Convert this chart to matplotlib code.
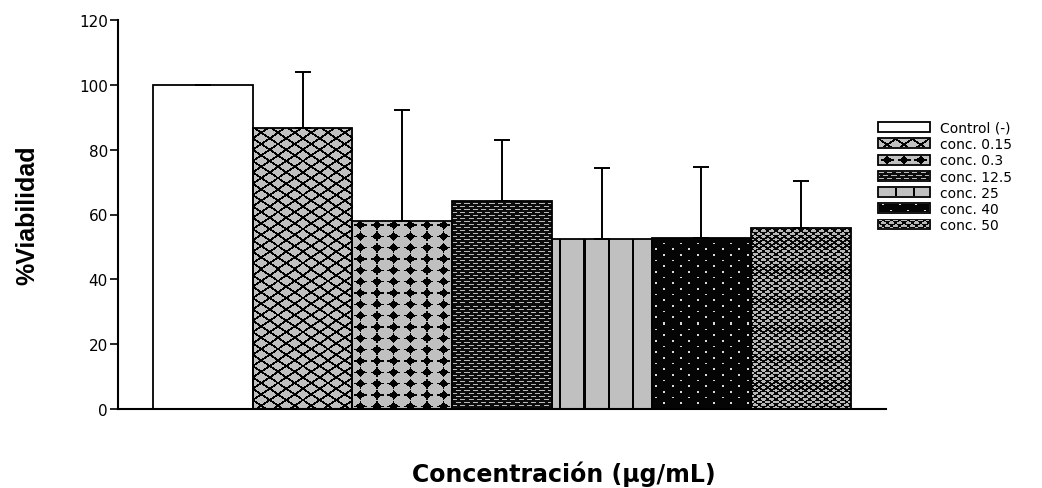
import numpy as np
import matplotlib
matplotlib.use("Agg")
import matplotlib.pyplot as plt

# Cell viability per treatment (mean and upper standard deviation)
labels = ["Control (-)", "conc. 0.15", "conc. 0.3", "conc. 12.5",
          "conc. 25", "conc. 40", "conc. 50"]
viability = [100.0, 86.7, 57.9, 64.3, 52.3, 52.9, 55.7]
sd_upper = [0.0, 17.4, 34.4, 18.7, 22.0, 21.6, 14.6]
y_ticks = [0, 20, 40, 60, 80, 100, 120]

# Fill style for each bar
fills = ["open", "cross", "diamond", "brick", "vlines", "dots", "checker"]

W_PX, H_PX, DPI = 1042, 489, 100
GRAY = 0.75


def frac_dist(t):
    return np.abs(t - np.round(t))


def fill_pattern(kind, w, h, vline_offset=7.0, vline_period=24.3):
    """Grey-level texture (h x w pixels) used to fill one bar."""
    X, Y = np.meshgrid(np.arange(w) + 0.5, np.arange(h) + 0.5)
    img = np.full((h, w), GRAY)
    if kind == "open":
        img[:] = 1.0
    elif kind == "cross":
        P, Q = 100 / 6, 34 / 3
        s = P * Q / np.hypot(P, Q)
        d1 = frac_dist(X / P + Y / Q) * s
        d2 = frac_dist(X / P - Y / Q) * s
        img[(d1 < 0.95) | (d2 < 0.95)] = 0.0
    elif kind == "diamond":
        P, Q = 100 / 6, 34 / 3
        Xs, Ys = X - P / 2, Y - 4.0
        dx = Xs - P * np.round(Xs / P)
        dy = Ys - Q * np.round(Ys / Q)
        adx, ady = np.abs(dx), np.abs(dy)
        mask = (adx / 5.2 + ady / 4.2 <= 1.0)
        mask |= (ady < 0.6) & (adx < 6.5)
        mask |= (adx < 0.6) & (ady < 5.0)
        img[mask] = 0.0
    elif kind == "brick":
        img[:] = 0.05
        row = np.floor(Y / 3.0)
        phase = X / (100 / 12) + 0.5 * (row % 2)
        dash = ((Y % 3.0) < 1.2) & ((phase % 1.0) < 0.6)
        img[dash] = 0.72
    elif kind == "vlines":
        img[((X - vline_offset) % vline_period) < 2.4] = 0.0
    elif kind == "dots":
        img[:] = 0.02
        rp = 17 / 3
        row = np.floor(Y / rp)
        on_row = (Y % rp) < 1.5
        ph = (X - 3.0 - (100 / 12) * (row % 2)) % (100 / 6)
        img[on_row & (ph < 2.0)] = 0.85
    elif kind == "checker":
        img[:] = 0.03
        P, Q = 100 / 12, 5.8
        row = np.round(Y / (Q / 2))
        Xs = X - (P / 2) * (row % 2)
        dx = Xs - P * np.round(Xs / P)
        dy = Y - (Q / 2) * row
        adx, ady = np.abs(dx), np.abs(dy)
        plus = ((adx <= 2.6) & (ady <= 0.8)) | ((adx <= 1.1) & (ady <= 1.6))
        img[plus] = 0.72
    return img


fig = plt.figure(figsize=(W_PX / DPI, H_PX / DPI), dpi=DPI)
ax = fig.add_axes([118 / W_PX, 1 - 410 / H_PX, 768 / W_PX, 389 / H_PX])
XLIM, YLIM = (-0.85, 6.85), (0, 120)
ax.set_xlim(*XLIM)
ax.set_ylim(*YLIM)

x = np.arange(len(labels))
bars = ax.bar(x, viability, width=1.0, facecolor="none",
              edgecolor="black", linewidth=1.3, zorder=3)

# Textured fills, computed at the bars' own pixel size
for bar, kind in zip(bars, fills):
    x0, x1 = bar.get_x(), bar.get_x() + bar.get_width()
    top = bar.get_height()
    (p0x, p0y), (p1x, p1y) = ax.transData.transform([(x0, 0), (x1, top)])
    w, h = int(round(p1x - p0x)), int(round(p1y - p0y))
    tex = fill_pattern(kind, w, h)
    im = ax.imshow(tex, cmap="gray", vmin=0, vmax=1,
                   extent=(x0, x1, 0, top), origin="upper",
                   interpolation="nearest", aspect="auto", zorder=2)
    im.set_clip_path(bar)

ax.errorbar(x, viability, yerr=[np.zeros(len(x)), sd_upper], fmt="none",
            ecolor="black", elinewidth=1.4, capsize=6.1, capthick=1.4,
            zorder=4)

ax.set_xlim(*XLIM)
ax.set_ylim(*YLIM)
ax.set_aspect("auto")

for s in ("top", "right"):
    ax.spines[s].set_visible(False)
for s in ("left", "bottom"):
    ax.spines[s].set_linewidth(1.5)
ax.set_xticks([])
ax.set_yticks(y_ticks)
ax.tick_params(axis="y", direction="out", length=5.8, width=1.2, pad=1.5,
               labelsize=11)
for t in ax.get_yticklabels():
    t.set_family("DejaVu Sans")

ax.set_ylabel("%Viabilidad", family=["Liberation Sans Narrow", "Liberation Sans"],
              fontweight="bold", fontsize=18, va="center")
ax.yaxis.set_label_coords((27 - 118) / 768, 0.5)
ax.set_xlabel("Concentración (μg/mL)", family="DejaVu Sans",
              fontweight="bold", fontsize=17, va="center")
ax.xaxis.set_label_coords((564 - 118) / 768, (410 - 474) / 389)

leg = fig.legend(bars, labels, loc="upper left",
                 bbox_to_anchor=(878 / W_PX, 1 - 122 / H_PX),
                 frameon=False, prop={"family": "DejaVu Sans", "size": 10},
                 handlelength=3.75, handleheight=0.72, handletextpad=0.7,
                 labelspacing=0.16, borderpad=0, borderaxespad=0)

# Same textures inside the legend swatches
fig.canvas.draw()
for handle, kind in zip(leg.legend_handles, fills):
    bb = handle.get_window_extent()
    w, h = int(round(bb.width)) - 2, int(round(bb.height)) - 2
    tex = fill_pattern(kind, w, h, vline_offset=16.0, vline_period=18.0)
    fig.figimage(tex, xo=int(round(bb.x0)) + 1, yo=int(round(bb.y0)) + 1,
                 origin="upper", cmap="gray", vmin=0, vmax=1, zorder=10)

fig.savefig("out.png", dpi=DPI)
